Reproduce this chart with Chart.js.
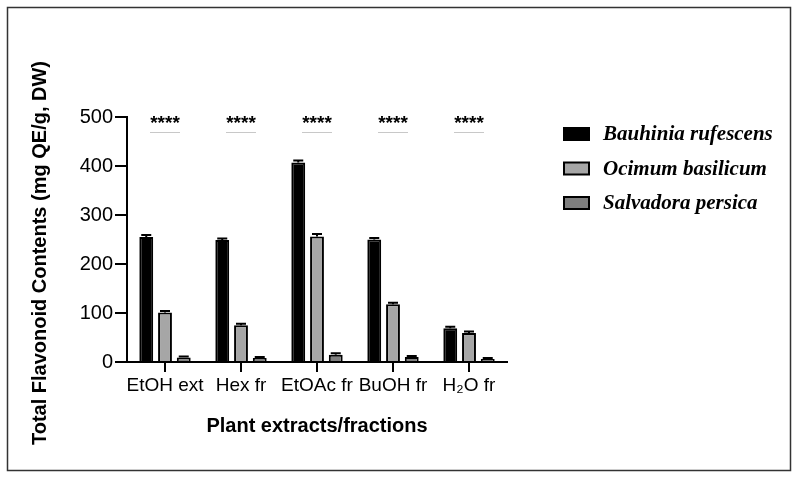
<!DOCTYPE html>
<html>
<head>
<meta charset="utf-8">
<script src="https://cdn.jsdelivr.net/npm/chart.js@4.4.1/dist/chart.umd.min.js"></script>
<style>
  html, body { margin: 0; padding: 0; background: #fff; }
  #wrap { width: 798px; height: 479px; position: relative; }
</style>
</head>
<body>
<div id="wrap"><canvas id="flavChart"></canvas></div>
<script>
const categories = ['EtOH ext', 'Hex fr', 'EtOAc fr', 'BuOH fr', 'H\u2082O fr'];
const seriesNames = ['Bauhinia rufescens', 'Ocimum basilicum', 'Salvadora persica'];
const bauhinia = [255, 249, 407, 250, 69];
const ocimum = [101, 75, 256, 118, 59];
const salvadora = [9, 8, 15, 10, 6];
const bauhiniaErr = [4, 3, 4, 3, 3];
const ocimumErr = [3, 3, 5, 3, 3];
const salvadoraErr = [2, 2, 3, 2, 2];
const significance = ['****', '****', '****', '****', '****'];
const yTicks = [0, 100, 200, 300, 400, 500];

const errors = [bauhiniaErr, ocimumErr, salvadoraErr];
const sans = '"Liberation Sans", Arial, sans-serif';

// error bars, significance marks, legend, frame
const extras = {
    id: 'extras',
    beforeDraw(chart) {
        const ctx = chart.ctx;
        ctx.save();
        ctx.fillStyle = '#fff';
        ctx.fillRect(0, 0, chart.width, chart.height);
        ctx.strokeStyle = '#333';
        ctx.lineWidth = 1.5;
        ctx.strokeRect(7.5, 7.5, 783, 463);
        ctx.restore();
    },
    afterDatasetsDraw(chart) {
        const ctx = chart.ctx;
        const y = chart.scales.y;
        const x = chart.scales.x;
        ctx.save();
        ctx.strokeStyle = '#000';
        ctx.lineWidth = 2;
        chart.data.datasets.forEach((ds, i) => {
            chart.getDatasetMeta(i).data.forEach((bar, j) => {
                const top = y.getPixelForValue(ds.data[j] + errors[i][j]);
                ctx.beginPath();
                ctx.moveTo(bar.x, bar.y);
                ctx.lineTo(bar.x, top);
                ctx.moveTo(bar.x - 5, top);
                ctx.lineTo(bar.x + 5, top);
                ctx.stroke();
            });
        });

        // significance
        ctx.textAlign = 'center';
        ctx.textBaseline = 'middle';
        ctx.font = 'bold 19px ' + sans;
        ctx.fillStyle = '#000';
        significance.forEach((s, j) => {
            const cx = x.getPixelForValue(j);
            ctx.fillText(s, cx, y.top + 7);
            ctx.strokeStyle = '#c8c8c8';
            ctx.lineWidth = 1;
            ctx.beginPath();
            ctx.moveTo(cx - 15, y.top + 15.5);
            ctx.lineTo(cx + 15, y.top + 15.5);
            ctx.stroke();
        });

        // y title
        ctx.save();
        ctx.translate(40, 253);
        ctx.rotate(-Math.PI / 2);
        ctx.font = 'bold 20px ' + sans;
        ctx.fillStyle = '#000';
        ctx.fillText('Total Flavonoid Contents (mg QE/g, DW)', 0, 0);
        ctx.restore();

        // legend
        ctx.textAlign = 'left';
        ctx.font = 'italic bold 21px "Liberation Serif", "Times New Roman", serif';
        chart.data.datasets.forEach((ds, i) => {
            const ly = 134 + i * 34.5;
            ctx.fillStyle = ds.backgroundColor;
            ctx.fillRect(564, ly - 6, 25, 12);
            ctx.strokeStyle = '#000';
            ctx.lineWidth = 2;
            ctx.strokeRect(564, ly - 6, 25, 12);
            ctx.fillStyle = '#000';
            ctx.fillText(ds.label, 603, ly + 1);
        });
        ctx.restore();
    }
};

new Chart(document.getElementById('flavChart'), {
    type: 'bar',
    data: {
        labels: categories,
        datasets: [
            { label: seriesNames[0], data: bauhinia, backgroundColor: '#000000' },
            { label: seriesNames[1], data: ocimum, backgroundColor: '#a6a6a6' },
            { label: seriesNames[2], data: salvadora, backgroundColor: '#7f7f7f' }
        ].map(d => Object.assign(d, {
            borderColor: '#000',
            borderWidth: 2,
            categoryPercentage: 0.74,
            barPercentage: 0.74
        }))
    },
    options: {
        responsive: true,
        maintainAspectRatio: false,
        animation: false,
        layout: { padding: { top: 117, right: 291, bottom: 37, left: 0 } },
        plugins: {
            legend: { display: false },
            tooltip: { enabled: false }
        },
        scales: {
            x: {
                offset: true,
                afterFit: s => { s.height = 80; },
                grid: { display: true, drawOnChartArea: false, offset: false, color: '#000', lineWidth: 2, tickLength: 10 },
                border: { color: '#000', width: 2 },
                ticks: { color: '#000', font: { family: sans, size: 19 }, padding: 2, maxRotation: 0, autoSkip: false },
                title: { display: true, text: 'Plant extracts/fractions', color: '#000', font: { family: sans, size: 20, weight: 'bold' }, padding: { bottom: 4 } }
            },
            y: {
                min: 0,
                max: 500,
                afterFit: s => { s.width = 127; },
                afterBuildTicks: s => { s.ticks = yTicks.map(v => ({ value: v })); },
                grid: { display: true, drawOnChartArea: false, color: '#000', lineWidth: 2, tickLength: 12 },
                border: { color: '#000', width: 2 },
                ticks: { color: '#000', font: { family: sans, size: 20 }, padding: 2 }
            }
        }
    },
    plugins: [extras]
});
</script>
</body>
</html>
